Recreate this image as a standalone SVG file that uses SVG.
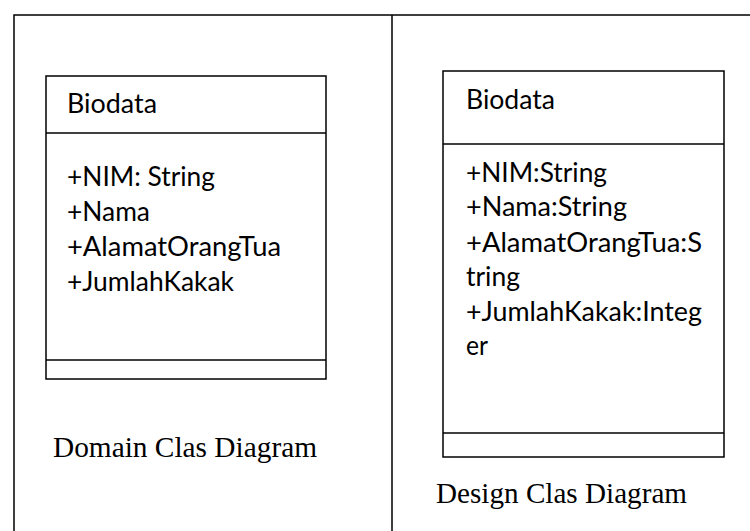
<svg xmlns="http://www.w3.org/2000/svg" width="750" height="531" viewBox="0 0 750 531">
<style>
.frame{fill:none;stroke:#000;stroke-width:1.5}
.box{fill:#fff;stroke:#000;stroke-width:1.5}
.t{font-family:Lato,"Open Sans",sans-serif;font-size:26px;fill:#000}
.cap{font-family:"Liberation Serif",serif;font-size:29px;fill:#000}
</style>
<rect width="750" height="531" fill="#fff"/>
<g id="frame">
<path class="frame" d="M14,531 V15 H750 M392,15 V531"/>
</g>
<g id="domain-class">
<rect class="box" x="46" y="76" width="280" height="303"/>
<line class="frame" x1="46" y1="133" x2="326" y2="133"/>
<line class="frame" x1="46" y1="360" x2="326" y2="360"/>
<text class="t" x="67" y="113" textLength="90" lengthAdjust="spacingAndGlyphs">Biodata</text>
<text class="t" x="67" y="186" textLength="148" lengthAdjust="spacingAndGlyphs">+NIM: String</text>
<text class="t" x="67" y="221" textLength="83" lengthAdjust="spacingAndGlyphs">+Nama</text>
<text class="t" x="67" y="256" textLength="214" lengthAdjust="spacingAndGlyphs">+AlamatOrangTua</text>
<text class="t" x="67" y="291" textLength="167" lengthAdjust="spacingAndGlyphs">+JumlahKakak</text>
</g>
<g id="design-class">
<rect class="box" x="443" y="71" width="281" height="386"/>
<line class="frame" x1="443" y1="144" x2="724" y2="144"/>
<line class="frame" x1="443" y1="433" x2="724" y2="433"/>
<text class="t" x="466" y="109" textLength="89" lengthAdjust="spacingAndGlyphs">Biodata</text>
<text class="t" x="466" y="182" textLength="141" lengthAdjust="spacingAndGlyphs">+NIM:String</text>
<text class="t" x="466" y="216" textLength="161" lengthAdjust="spacingAndGlyphs">+Nama:String</text>
<text class="t" x="466" y="252" textLength="236" lengthAdjust="spacingAndGlyphs">+AlamatOrangTua:S</text>
<text class="t" x="466" y="286" textLength="54" lengthAdjust="spacingAndGlyphs">tring</text>
<text class="t" x="466" y="321" textLength="236" lengthAdjust="spacingAndGlyphs">+JumlahKakak:Integ</text>
<text class="t" x="466" y="355" textLength="22" lengthAdjust="spacingAndGlyphs">er</text>
</g>
<text class="cap" x="53" y="457" textLength="264" lengthAdjust="spacingAndGlyphs">Domain Clas Diagram</text>
<text class="cap" x="436" y="503" textLength="251" lengthAdjust="spacingAndGlyphs">Design Clas Diagram</text>
</svg>
